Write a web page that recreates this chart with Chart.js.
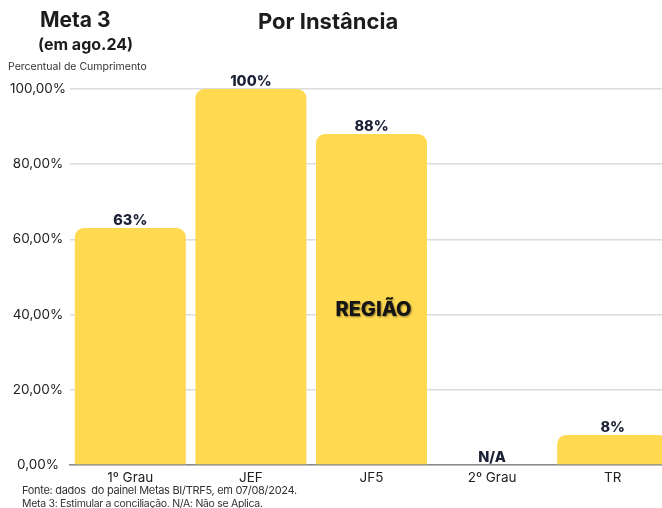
<!DOCTYPE html>
<html><head><meta charset="utf-8">
<script src="https://cdn.jsdelivr.net/npm/chart.js@4"></script>
<style>
html,body{margin:0;padding:0;width:662px;height:508px;overflow:hidden;background:#fff;font-family:Inter,"Noto Sans",sans-serif;color:#1c1c1c}
#wrap{position:absolute;left:0;top:0;width:673px;height:508px}
.t{position:absolute;white-space:nowrap;font-weight:700}
</style></head><body>
<div id="wrap"><canvas id="c" width="673" height="508"></canvas></div>
<div class="t" style="left:40px;top:7px;font-size:21px">Meta 3</div>
<div class="t" style="left:38px;top:34px;font-size:16px">(em ago.24)</div>
<div class="t" style="left:258px;top:8px;font-size:22px">Por Instância</div>
<div class="t" style="left:8px;top:60px;font-size:10.5px;font-weight:400;color:#333">Percentual de Cumprimento</div>
<div class="t" style="left:22px;top:483px;font-size:11px;font-weight:400;color:#333;letter-spacing:-0.3px">Fonte: dados&nbsp; do painel Metas BI/TRF5, em 07/08/2024.</div>
<div class="t" style="left:22px;top:497px;font-size:10.5px;font-weight:400;color:#333;letter-spacing:-0.3px">Meta 3: Estimular a conciliação. N/A: Não se Aplica.</div>
<script>
const categories = ["1º Grau", "JEF", "JF5", "2º Grau", "TR"];
const values = [63, 100, 88, null, 8];
const valueLabels = ["63%", "100%", "88%", "N/A", "8%"];
const yTicks = [0, 20, 40, 60, 80, 100];

const labelPlugin = {
  id: 'valLabels',
  afterDatasetsDraw(chart) {
    const ctx = chart.ctx;
    const meta = chart.getDatasetMeta(0);
    const y0 = chart.scales.y.getPixelForValue(0);
    ctx.save();
    ctx.textAlign = 'center';
    ctx.textBaseline = 'bottom';
    ctx.fillStyle = '#1b2035';
    ctx.font = '800 14.5px Inter, sans-serif';
    meta.data.forEach((bar, i) => {
      const top = values[i] == null ? y0 : bar.y;
      ctx.fillText(valueLabels[i], bar.x, top);
    });
    const jf5 = meta.data[2];
    ctx.font = '800 20px Inter, sans-serif';
    ctx.textBaseline = 'middle';
    ctx.shadowColor = 'rgba(0,0,0,0.45)';
    ctx.shadowBlur = 2;
    ctx.shadowOffsetX = 1;
    ctx.shadowOffsetY = 1;
    ctx.fillStyle = '#151515';
    ctx.fillText('REGIÃO', jf5.x + 2, 310);
    ctx.restore();
  }
};

new Chart(document.getElementById('c'), {
  type: 'bar',
  data: {
    labels: categories,
    datasets: [{
      data: values,
      backgroundColor: '#FFD94F',
      borderRadius: {topLeft: 9, topRight: 9, bottomLeft: 0, bottomRight: 0},
      borderSkipped: 'bottom',
      categoryPercentage: 0.92,
      barPercentage: 1.0
    }]
  },
  options: {
    responsive: false,
    animation: false,
    devicePixelRatio: 1,
    layout: {padding: {top: 89, right: 0, bottom: 0, left: 0}},
    plugins: {legend: {display: false}, tooltip: {enabled: false}},
    scales: {
      x: {
        grid: {display: false, drawTicks: false},
        border: {display: true, color: '#8a8a8a', width: 1.5},
        ticks: {color: '#222', font: {family: 'Inter, sans-serif', size: 13.5}, padding: 5, maxRotation: 0},
        afterFit(s) { s.height = 43; }
      },
      y: {
        min: 0, max: 100,
        afterBuildTicks(s) { s.ticks = yTicks.map(v => ({value: v})); },
        grid: {color: '#dcdcdc', lineWidth: 1.5, drawTicks: false},
        border: {display: false},
        ticks: {
          color: '#222', font: {family: 'Inter, sans-serif', size: 13.5}, padding: 4,
          crossAlign: 'center',
          callback: v => v.toFixed(2).replace('.', ',') + '%'
        },
        afterFit(s) { s.width = 70; }
      }
    }
  },
  plugins: [labelPlugin]
});
</script>
</body></html>
